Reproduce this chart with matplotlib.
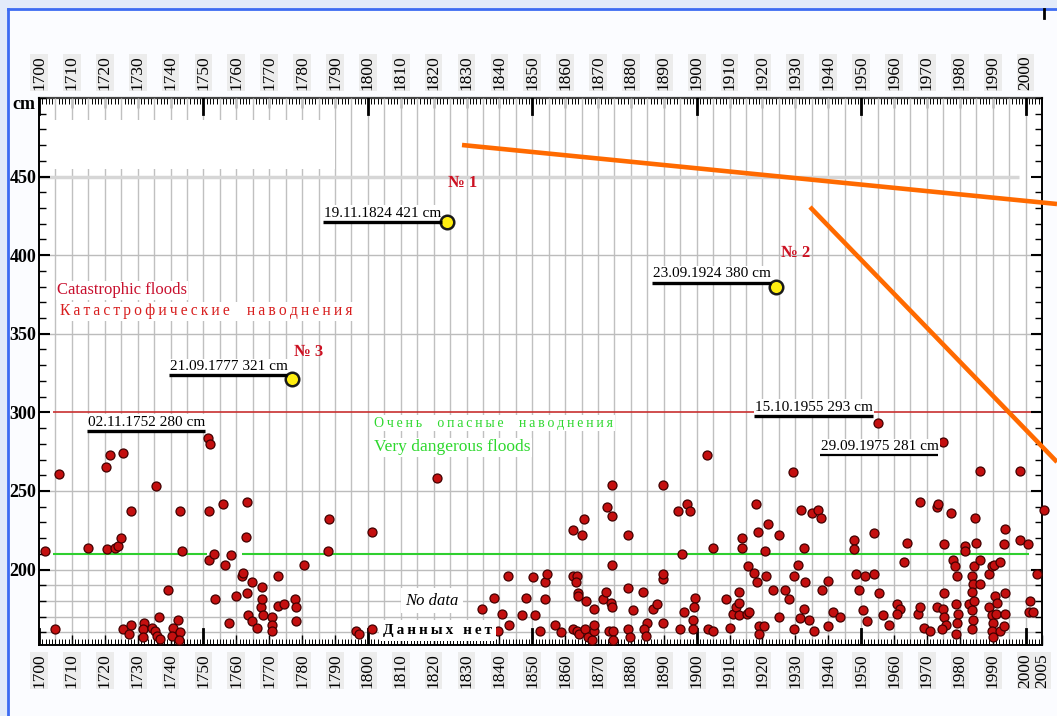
import matplotlib.pyplot as plt
from matplotlib.lines import Line2D
from matplotlib.patches import Rectangle
from matplotlib.ticker import MultipleLocator, FixedLocator

plt.rcParams['font.family'] = ['Liberation Serif', 'DejaVu Serif']

# Flood peaks in St Petersburg: year and water level, cm
flood_years = [
    1701.8, 1704.9, 1706.0, 1714.8, 1720.4, 1721.6, 1720.6, 1723.1, 1724.1, 1724.8,
    1725.6, 1728.0, 1725.6, 1727.9, 1727.5, 1731.9, 1731.7, 1731.5, 1734.3, 1735.3,
    1736.6, 1735.8, 1736.8, 1735.6, 1739.3, 1740.8, 1740.3, 1742.4, 1742.9, 1742.6,
    1742.9, 1743.4, 1751.5, 1751.8, 1751.8, 1753.2, 1753.5, 1755.9, 1756.7, 1757.9,
    1758.4, 1759.8, 1761.8, 1762.1, 1762.9, 1763.4, 1763.2, 1763.7, 1764.7, 1764.9,
    1766.2, 1767.5, 1767.9, 1767.9, 1768.0, 1770.8, 1771.0, 1771.0, 1772.6, 1772.8,
    1774.6, 1777.9, 1778.2, 1778.2, 1780.6, 1788.3, 1788.0, 1796.5, 1797.2,
    1801.2, 1801.2, 1821.1, 1834.8, 1838.5, 1839.7, 1840.9, 1842.7, 1842.9, 1846.8,
    1848.1, 1850.3, 1850.8, 1852.2, 1853.9, 1853.9, 1854.4, 1856.9, 1858.8, 1862.5,
    1865.0, 1865.8, 1862.5, 1863.6, 1863.2, 1864.0, 1863.8, 1866.2, 1868.8, 1862.5,
    1863.7, 1864.3, 1866.0, 1866.8, 1868.1, 1868.8, 1868.8, 1871.6, 1872.3, 1872.6,
    1874.2, 1874.2, 1874.2, 1874.0, 1874.2, 1873.2, 1874.5, 1874.5, 1879.0, 1879.2,
    1880.7, 1879.0, 1879.7, 1883.8, 1884.8, 1884.0, 1884.6, 1886.6, 1888.0, 1889.6,
    1889.6, 1889.6, 1889.7, 1894.4, 1897.0, 1898.0, 1895.6, 1896.0, 1895.0, 1899.5,
    1899.2, 1899.0, 1899.0,
    1903.0, 1905.1, 1903.3, 1904.9, 1909.0, 1910.0, 1911.0, 1912.0, 1913.0, 1913.0,
    1913.0, 1913.7, 1913.7, 1915.4, 1916.0, 1915.7, 1917.5, 1918.3, 1918.1, 1918.5,
    1918.8, 1919.0, 1920.5, 1920.7, 1921.0, 1921.6, 1923.1, 1925.0, 1925.1, 1926.7,
    1928.0, 1929.2, 1929.7, 1929.7, 1930.7, 1931.7, 1932.7, 1931.4, 1932.7, 1933.0,
    1934.0, 1935.0, 1936.8, 1937.7, 1935.7, 1938.0, 1939.9, 1939.9, 1941.4, 1943.6,
    1947.9, 1947.9, 1948.4, 1949.4, 1950.5, 1951.2, 1951.9, 1953.9, 1953.9, 1955.3,
    1956.8, 1958.5, 1961.0, 1961.8, 1961.0, 1962.9, 1963.9, 1967.2, 1968.0, 1968.0,
    1969.2, 1970.8, 1973.0, 1973.5, 1973.0, 1975.2, 1975.2, 1975.0, 1975.2, 1975.8,
    1974.5, 1977.4, 1978.0, 1978.6, 1979.1, 1978.9, 1979.4, 1979.1, 1978.8, 1981.6,
    1981.6, 1982.9, 1983.7, 1984.0, 1983.7, 1984.2, 1983.7, 1984.0, 1983.7, 1984.2,
    1984.7, 1985.0, 1986.2, 1986.0, 1986.2, 1989.0, 1989.7, 1990.0, 1989.7, 1990.0,
    1989.0, 1989.7, 1990.4, 1990.7, 1991.3, 1991.1, 1992.1, 1992.3, 1993.3, 1993.8,
    1993.8, 1993.8, 1993.5, 1998.4, 1998.2, 2000.6, 2001.4, 2000.9, 2002.4, 2003.4,
    2005.6,
]
flood_levels = [
    212, 162, 261, 214, 265, 273, 213, 214, 215, 220,
    274, 237, 162, 165, 159, 166, 162, 157, 163, 161,
    170, 158, 156, 253, 187, 163, 158, 168, 160, 155,
    237, 212, 284, 237, 206, 210, 181, 242, 203, 166,
    209, 183, 196, 198, 221, 243, 185, 171, 167, 192,
    163, 176, 189, 181, 171, 170, 165, 161, 177, 196,
    178, 181, 176, 167, 203, 232, 212, 161, 159,
    224, 162, 258, 175, 182, 161, 172, 196, 165, 171,
    182, 195, 171, 161, 181, 192, 197, 165, 160, 225,
    222, 232, 196, 196, 192, 185, 183, 180, 175, 162,
    161, 159, 162, 157, 155, 161, 165, 181, 186, 240,
    254, 234, 203, 179, 176, 161, 161, 155, 222, 188,
    174, 162, 157, 186, 166, 162, 158, 175, 178, 254,
    194, 197, 166, 237, 242, 237, 210, 173, 162, 182,
    176, 168, 162,
    273, 214, 162, 161, 181, 163, 172, 176, 186, 179,
    171, 220, 214, 172, 173, 202, 198, 192, 242, 224,
    164, 159, 164, 212, 196, 229, 187, 222, 170, 187,
    181, 262, 196, 162, 203, 238, 214, 169, 175, 192,
    168, 236, 238, 233, 161, 187, 193, 164, 173, 170,
    219, 213, 197, 187, 174, 196, 167, 197, 223, 185,
    171, 165, 178, 175, 172, 205, 217, 172, 176, 243,
    163, 161, 240, 242, 176, 216, 185, 175, 170, 165,
    162, 236, 206, 202, 196, 178, 172, 166, 159, 215,
    212, 178, 196, 191, 186, 180, 174, 168, 162, 202,
    233, 217, 263, 206, 191, 176, 171, 166, 161, 157,
    197, 202, 203, 183, 179, 172, 205, 161, 216, 226,
    185, 172, 164, 263, 219, 216, 180, 173, 173, 197,
    238,
]

# Notable floods quoted on the chart
record_dates = ['19.11.1824', '23.09.1924', '21.09.1777',
                '02.11.1752', '15.10.1955', '29.09.1975']
record_levels = [421, 380, 321, 280, 293, 281]
record_ranks = ['№ 1', '№ 2', '№ 3', '', '', '']

x_ticks_top = list(range(1700, 2001, 10))
x_ticks_bottom = x_ticks_top + [2005]
y_ticks = [200, 250, 300, 350, 400, 450]

catastrophic_level = 300
dangerous_level = 210

W, H = 1057, 716


def spaced(text, sep='\u2009'):
    return sep.join(text)


fig = plt.figure(figsize=(W / 100, H / 100), dpi=100)
fig.patch.set_facecolor('#e2ebfa')

# slide panel with a blue frame on the left and top
fig.add_artist(Rectangle((8 / W, 0), 1 - 8 / W, 1 - 9 / H, transform=fig.transFigure,
                         facecolor='#fbfcff', edgecolor='none', zorder=-10))
fig.add_artist(Line2D([8 / W, 8 / W], [0, 1 - 9 / H], color='#3d6cf2', lw=2))
fig.add_artist(Line2D([8 / W, 1], [1 - 9 / H, 1 - 9 / H], color='#3d6cf2', lw=2))
fig.add_artist(Line2D([1044 / W, 1044 / W], [1 - 9 / H, 1 - 18 / H], color='black', lw=2))

ax = fig.add_axes([39 / W, 71 / H, 1003 / W, 547 / H])
ax.set_facecolor('white')
ax.set_xlim(1700, 2005)
ax.set_ylim(152, 500)

# grid
ax.vlines(range(1705, 2001, 5), 152, 500, colors='#c0c0c0', lw=1, zorder=0.5)
ax.hlines([160, 170, 180, 190, 200, 250, 350, 400], 1700, 2005,
          colors='#bcbcbc', lw=1, zorder=0.6)
ax.hlines(450, 1700, 1998, colors='#d6d6d6', lw=2.5, zorder=0.6)
ax.add_patch(Rectangle((1704, 455), 86, 31, facecolor='white', edgecolor='none', zorder=0.8))

# threshold lines
ax.hlines(catastrophic_level, 1704.3, 2004.5, colors='#c83030', lw=1.2, zorder=1)
ax.hlines(dangerous_level, 1704.3, 1751.0, colors='#2fcf2f', lw=1.5, zorder=1)
ax.hlines(dangerous_level, 1761.6, 2001.0, colors='#2fcf2f', lw=1.5, zorder=1)

# ticks
ax.xaxis.set_major_locator(FixedLocator(x_ticks_bottom))
ax.xaxis.set_minor_locator(MultipleLocator(1))
ax.tick_params(axis='x', which='major', direction='in', length=7, width=1,
               top=False, labelsize=12.5, labelrotation=90, pad=6)
ax.tick_params(axis='x', which='minor', direction='in', length=4, width=0.7, top=False)
ax.yaxis.set_major_locator(FixedLocator(y_ticks))
ax.yaxis.set_minor_locator(MultipleLocator(10))
ax.tick_params(axis='y', which='major', direction='in', length=8, width=1.5,
               right=True, labelsize=13, pad=2)
ax.tick_params(axis='y', which='minor', direction='in', length=5, width=1, right=True)
for lbl in ax.get_yticklabels():
    lbl.set_fontweight('bold')
for lbl in ax.get_xticklabels():
    lbl.set_bbox(dict(facecolor='#ececec', edgecolor='none', pad=0.6))

secax = ax.secondary_xaxis('top')
secax.set_xticks(x_ticks_top)
secax.xaxis.set_minor_locator(MultipleLocator(1))
secax.tick_params(axis='x', which='major', direction='in', length=7, width=1,
                  labelsize=12.5, labelrotation=90, pad=6)
secax.tick_params(axis='x', which='minor', direction='in', length=4, width=0.7)
for lbl in secax.get_xticklabels():
    lbl.set_bbox(dict(facecolor='#ececec', edgecolor='none', pad=0.6))
secax.spines['top'].set_color('#444444')
secax.spines['top'].set_linewidth(1.6)

for yr in range(1700, 2001, 50):
    ax.plot([yr, yr], [0, 0.03], transform=ax.get_xaxis_transform(), color='black', lw=2)
    ax.plot([yr, yr], [1, 0.97], transform=ax.get_xaxis_transform(), color='black', lw=2)

for side in ['left', 'bottom', 'right']:
    ax.spines[side].set_linewidth(1.4)
ax.spines['top'].set_visible(False)

ax.text(-0.004, 496, 'cm', transform=ax.get_yaxis_transform(), ha='right', va='center',
        fontsize=13, fontweight='bold')

# flood peaks
ax.scatter(flood_years, flood_levels, s=42, c='#c40f0f', edgecolors='#420000',
           linewidths=0.9, zorder=4, clip_on=False)

# notable floods with underlined labels
line_shift = [0, 2.5, 2.5, 8, 4.5, -8.4]
line_width = [2.4, 2.4, 2.4, 2.4, 2.4, 1.6]
rank_offset = [(1, 28), (4, 24), (1, 20)]
for i, (date, level, rank) in enumerate(zip(record_dates, record_levels, record_ranks)):
    year = int(date[-4:])
    if rank:
        ax.scatter([year], [level], s=95, c='#ffee10', edgecolors='#1a1a1a',
                   linewidths=1.8, zorder=6)
        dx, dy = rank_offset[i]
        ax.annotate(rank, (year, level), xytext=(dx, dy), textcoords='offset points',
                    ha='left', va='center', fontsize=12, fontweight='bold', color='#cc1122',
                    zorder=7)
    else:
        ax.scatter([year], [level], s=42, c='#c40f0f', edgecolors='#420000',
                   linewidths=0.9, zorder=4)
    y_line = level + line_shift[i]
    x_end = year - 1.5
    x_start = x_end - 36
    ax.text(x_start + 0.3, y_line + 1.6, f'{date} {level} cm', ha='left', va='bottom',
            fontsize=11, color='black', zorder=5,
            bbox=dict(facecolor='white', edgecolor='none', pad=1.0))
    ax.plot([x_start, x_end], [y_line, y_line], color='black', lw=line_width[i],
            solid_capstyle='butt', zorder=6)

# zone captions
ax.text(1705.5, 377.7, 'Catastrophic floods', ha='left', va='center', fontsize=12,
        color='#c8102e', zorder=5, bbox=dict(facecolor='white', edgecolor='none', pad=1))
ax.text(1706.4, 364.3, spaced('Катастрофические  наводнения'), ha='left', va='center',
        fontsize=11.2, color='#d81e1e', zorder=5,
        bbox=dict(facecolor='white', edgecolor='none', pad=1))
ax.text(1802, 293, spaced('Очень  опасные  наводнения'), ha='left', va='center',
        fontsize=10, color='#2ed82e', zorder=5,
        bbox=dict(facecolor='white', edgecolor='none', pad=1))
ax.text(1802, 277.7, 'Very dangerous floods', ha='left', va='center', fontsize=12.5,
        color='#2ed82e', zorder=5, bbox=dict(facecolor='white', edgecolor='none', pad=1))
ax.text(1819.5, 180.3, 'No data', ha='center', va='center', fontsize=12, style='italic',
        zorder=5, bbox=dict(facecolor='white', edgecolor='none', pad=3))
ax.text(1804.6, 161, spaced('Данных нет'), ha='left', va='center', fontsize=11,
        fontweight='bold', zorder=5, bbox=dict(facecolor='white', edgecolor='none', pad=3))

# orange pointers running off the right edge
fig.add_artist(Line2D([462 / W, 1.0], [1 - 145 / H, 1 - 204 / H], color='#ff6a00', lw=3.3,
                      solid_capstyle='butt'))
fig.add_artist(Line2D([810 / W, 1.0], [1 - 207 / H, 1 - 462 / H], color='#ff6a00', lw=3.3,
                      solid_capstyle='butt'))

fig.savefig('out.png', dpi=100, facecolor=fig.get_facecolor())
